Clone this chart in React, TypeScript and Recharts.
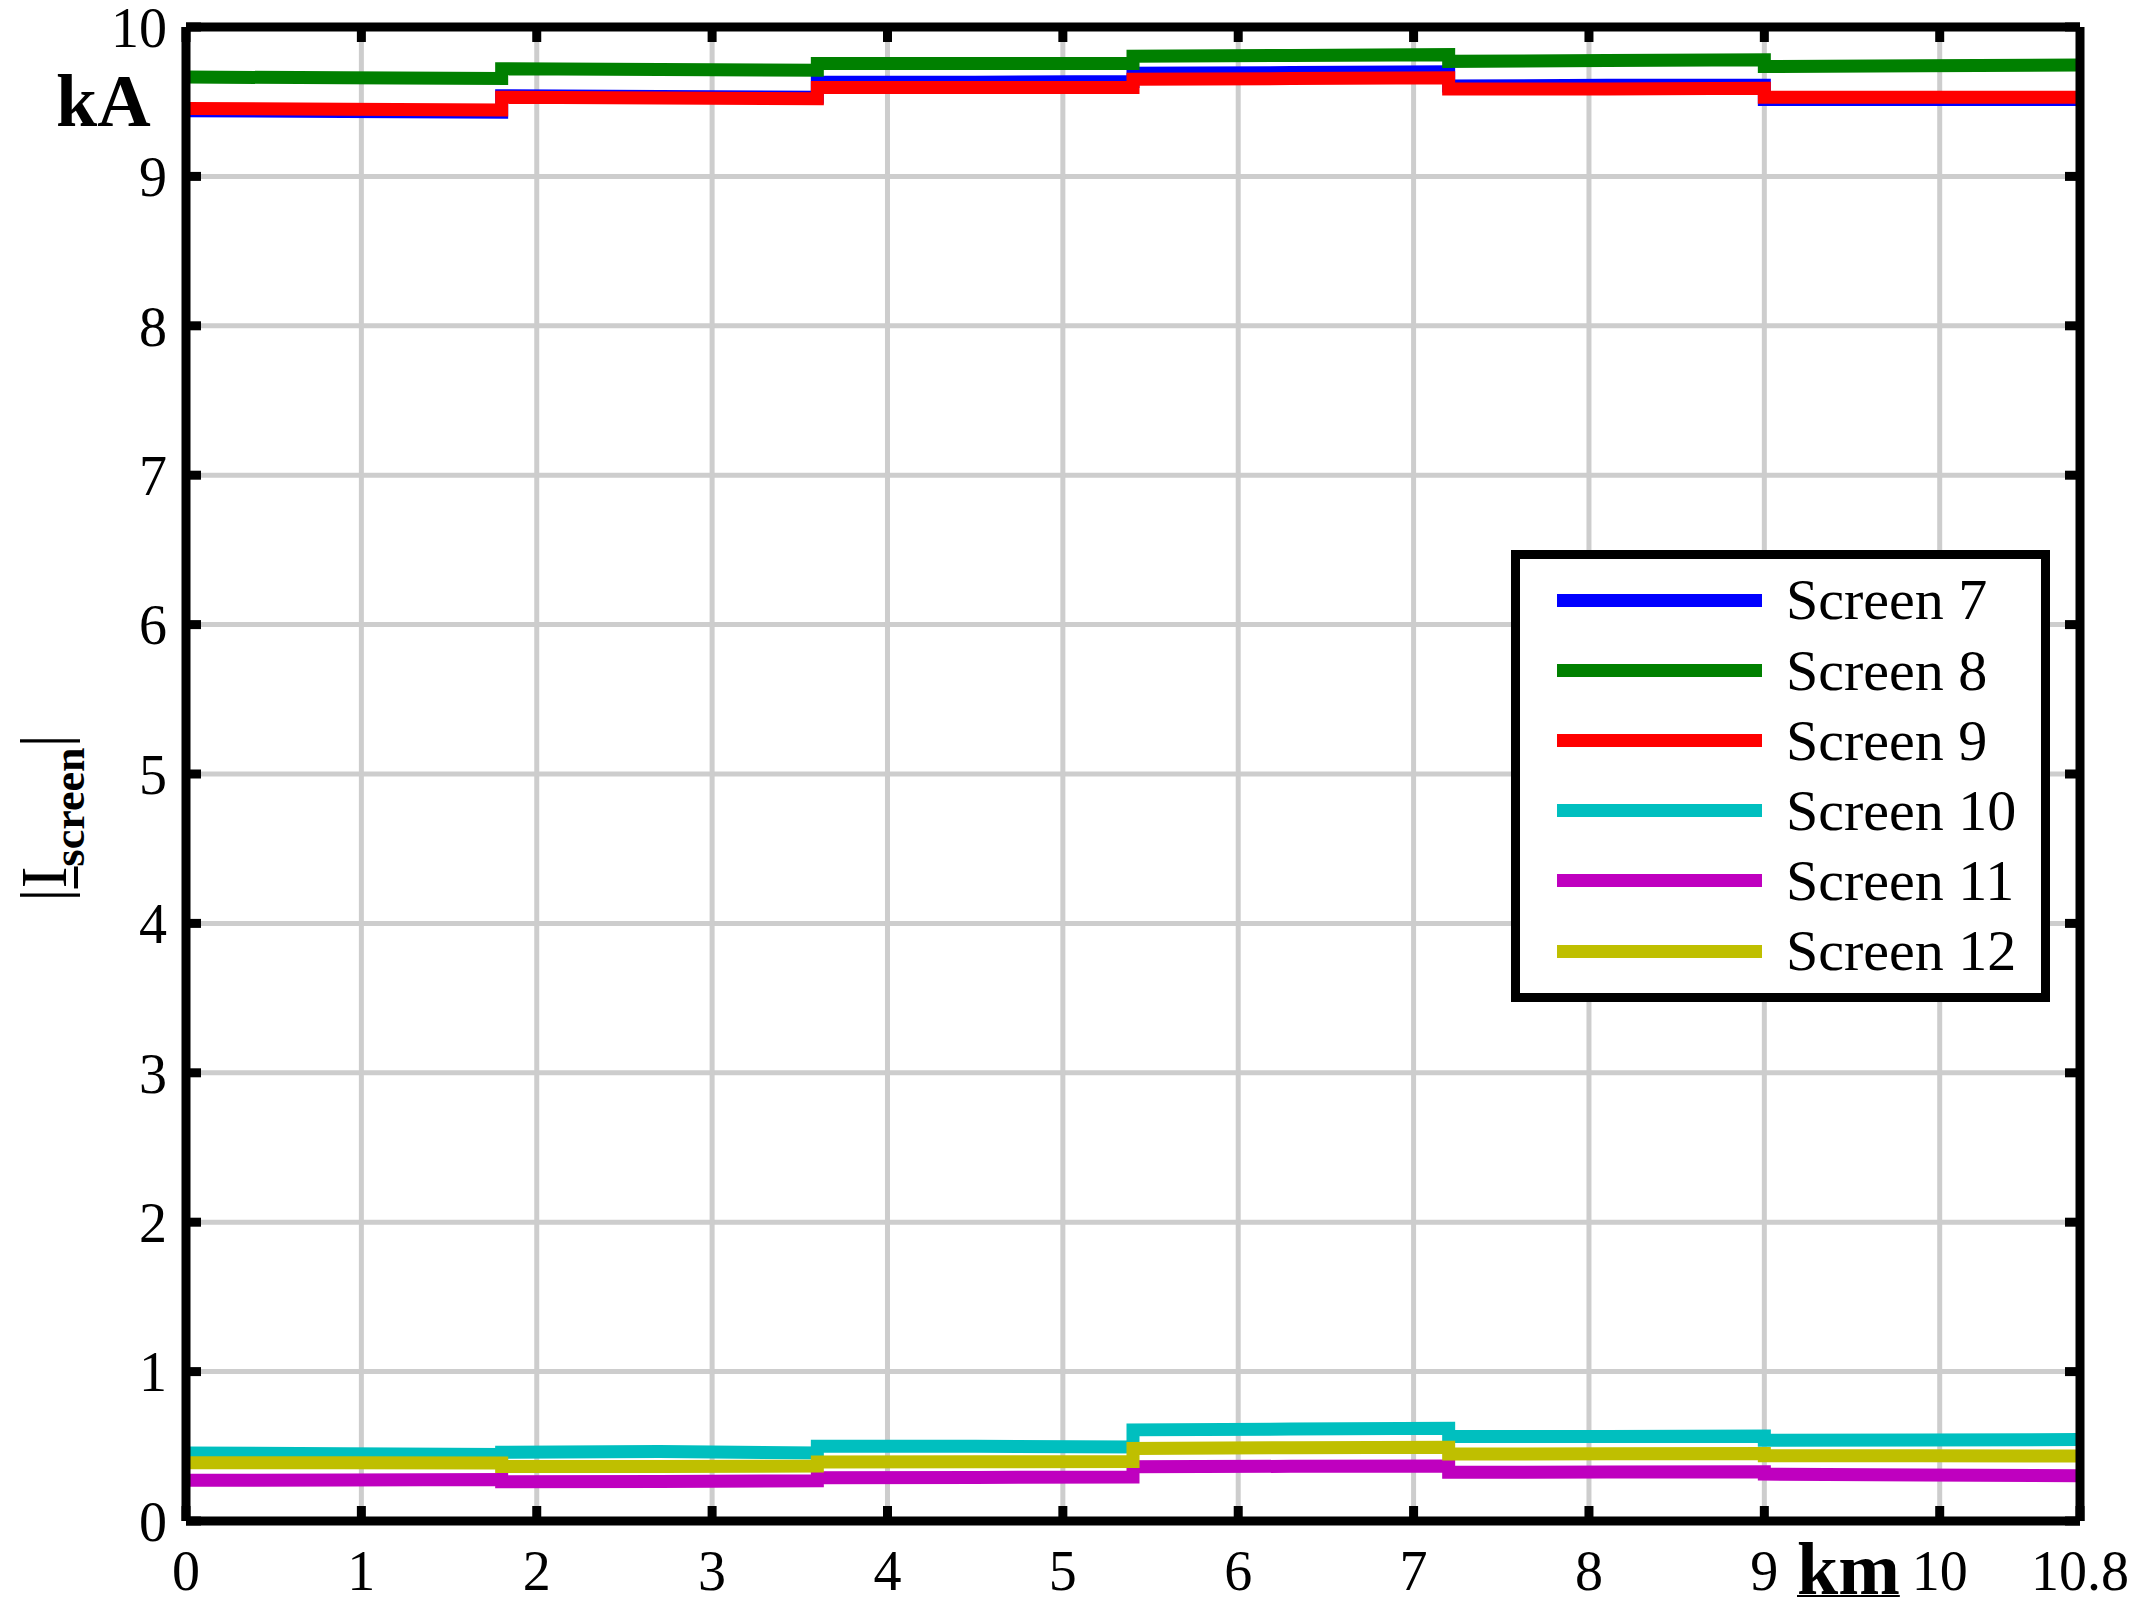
import React from 'react';
import { LineChart, Line, XAxis, YAxis, CartesianGrid, Legend } from 'recharts';

// distance along route (km) – each section has a start, middle and end point
const km = [0, 0.9, 1.8, 1.8, 2.7, 3.6, 3.6, 4.5, 5.4, 5.4, 6.3, 7.2, 7.2, 8.1, 9, 9, 9.9, 10.8];

// |I_screen| in kA
const screen7 = [9.44, 9.435, 9.43, 9.54, 9.535, 9.53, 9.63, 9.63, 9.635, 9.69, 9.695, 9.7, 9.605, 9.61, 9.61, 9.515, 9.515, 9.515];
const screen8 = [9.665, 9.66, 9.655, 9.72, 9.715, 9.71, 9.755, 9.755, 9.755, 9.805, 9.81, 9.815, 9.77, 9.775, 9.78, 9.735, 9.74, 9.745];
const screen9 = [9.455, 9.45, 9.445, 9.53, 9.525, 9.52, 9.595, 9.595, 9.595, 9.65, 9.655, 9.66, 9.585, 9.585, 9.59, 9.53, 9.53, 9.53];
const screen10 = [0.455, 0.45, 0.445, 0.46, 0.465, 0.455, 0.5, 0.5, 0.495, 0.61, 0.615, 0.62, 0.565, 0.565, 0.568, 0.54, 0.542, 0.545];
const screen11 = [0.272, 0.275, 0.278, 0.263, 0.265, 0.27, 0.29, 0.292, 0.295, 0.363, 0.366, 0.368, 0.326, 0.328, 0.33, 0.314, 0.308, 0.303];
const screen12 = [0.39, 0.39, 0.388, 0.365, 0.365, 0.368, 0.395, 0.397, 0.398, 0.486, 0.49, 0.493, 0.448, 0.45, 0.452, 0.437, 0.436, 0.435];

const seriesKeys = ['s7', 's8', 's9', 's10', 's11', 's12'];
const seriesNames = ['Screen 7', 'Screen 8', 'Screen 9', 'Screen 10', 'Screen 11', 'Screen 12'];
const seriesColors = ['#0000ff', '#008000', '#ff0000', '#00bfbf', '#bf00bf', '#bfbf00'];
const seriesValues = [screen7, screen8, screen9, screen10, screen11, screen12];

const xTicks = [0, 1, 2, 3, 4, 5, 6, 7, 8, 9, 10, 10.8];
const xTicksTop = [0, 1, 2, 3, 4, 5, 6, 7, 8, 9, 10];
const yTicks = [0, 1, 2, 3, 4, 5, 6, 7, 8, 9, 10];

const data = km.map((x, i) => {
  const row: Record<string, number> = { x };
  seriesKeys.forEach((k, j) => {
    row[k] = seriesValues[j][i];
  });
  return row;
});

const SERIF = '"Liberation Serif", "Times New Roman", serif';
const tickFont = { fontFamily: SERIF, fontSize: 56, fill: '#000' };
const frame = { stroke: '#000', strokeWidth: 9 };
const tickLineStyle = { stroke: '#000', strokeWidth: 9 };
const NoLabel = () => <g />;

const renderLegend = (props: any) => {
  const payload = [...(props.payload || [])].sort(
    (a: any, b: any) => seriesNames.indexOf(a.value) - seriesNames.indexOf(b.value)
  );
  return (
    <div
      style={{
        position: 'relative',
        width: 539,
        height: 452,
        boxSizing: 'border-box',
        border: '9px solid #000',
        background: '#fff',
        fontFamily: SERIF,
      }}
    >
      {payload.map((p: any, i: number) => (
        <React.Fragment key={i}>
          <div
            style={{
              position: 'absolute',
              left: 37,
              top: 41 + i * 70.2 - 6.5,
              width: 205,
              height: 13,
              background: p.color,
            }}
          />
          <div
            style={{
              position: 'absolute',
              left: 266,
              top: 12.4 + i * 70.2,
              fontSize: 58,
              lineHeight: '58px',
              whiteSpace: 'nowrap',
              color: '#000',
            }}
          >
            {p.value}
          </div>
        </React.Fragment>
      ))}
    </div>
  );
};

export default function App() {
  return (
    <div style={{ position: 'absolute', left: 0, top: 0, width: 2133, height: 1615, background: '#fff' }}>
      <LineChart
        width={2133}
        height={1615}
        data={data}
        margin={{ top: 26, right: 52, bottom: 93, left: 185 }}
      >
        <CartesianGrid xAxisId="x" yAxisId="y" stroke="#cdcdcd" strokeWidth={5} />
        <XAxis
          xAxisId="x"
          dataKey="x"
          type="number"
          domain={[0, 10.8]}
          allowDataOverflow
          ticks={xTicks}
          interval={0}
          height={1}
          tick={tickFont}
          tickSize={-15}
          tickMargin={44}
          tickLine={tickLineStyle}
          axisLine={frame}
        />
        <XAxis
          xAxisId="t"
          dataKey="x"
          orientation="top"
          type="number"
          domain={[0, 10.8]}
          allowDataOverflow
          ticks={xTicksTop}
          interval={0}
          height={1}
          tick={NoLabel}
          tickSize={-15}
          tickLine={tickLineStyle}
          axisLine={frame}
        />
        <YAxis
          yAxisId="y"
          type="number"
          domain={[0, 10]}
          allowDataOverflow
          ticks={yTicks}
          interval={0}
          width={1}
          tick={tickFont}
          tickSize={-15}
          tickMargin={34}
          tickLine={tickLineStyle}
          axisLine={frame}
        />
        <YAxis
          yAxisId="r"
          orientation="right"
          type="number"
          domain={[0, 10]}
          allowDataOverflow
          ticks={yTicks}
          interval={0}
          width={1}
          tick={NoLabel}
          tickSize={-15}
          tickLine={tickLineStyle}
          axisLine={frame}
        />
        {seriesKeys.map((k, j) => (
          <Line
            key={k}
            xAxisId="x"
            yAxisId="y"
            dataKey={k}
            name={seriesNames[j]}
            stroke={seriesColors[j]}
            strokeWidth={13}
            dot={false}
            activeDot={false}
            type="linear"
            isAnimationActive={false}
          />
        ))}
        <Legend
          layout="vertical"
          align="center"
          verticalAlign="middle"
          content={renderLegend}
          wrapperStyle={{ left: 1511, top: 550, width: 539, height: 452 }}
        />
      </LineChart>
      <div
        style={{
          position: 'absolute',
          left: 56,
          top: 65,
          fontFamily: SERIF,
          fontWeight: 'bold',
          fontSize: 74,
          lineHeight: '72px',
          whiteSpace: 'nowrap',
        }}
      >
        kA
      </div>
      <div
        style={{
          position: 'absolute',
          left: 1797,
          top: 1533,
          fontFamily: SERIF,
          fontWeight: 'bold',
          fontSize: 74,
          lineHeight: '72px',
          whiteSpace: 'nowrap',
          textDecoration: 'underline',
          textDecorationThickness: '2px',
          textUnderlineOffset: '1px',
        }}
      >
        km
      </div>
      <div
        style={{
          position: 'absolute',
          left: 48,
          top: 818,
          transform: 'translate(-50%, -50%) rotate(-90deg)',
          fontFamily: SERIF,
          fontSize: 66,
          lineHeight: '66px',
          whiteSpace: 'nowrap',
        }}
      >
        |
        <span
          style={{
            textDecoration: 'underline',
            textDecorationThickness: '4px',
            textUnderlineOffset: '8px',
          }}
        >
          I
        </span>
        <span style={{ fontSize: 44, fontWeight: 'bold', position: 'relative', top: 18 }}>screen</span>|
      </div>
    </div>
  );
}
